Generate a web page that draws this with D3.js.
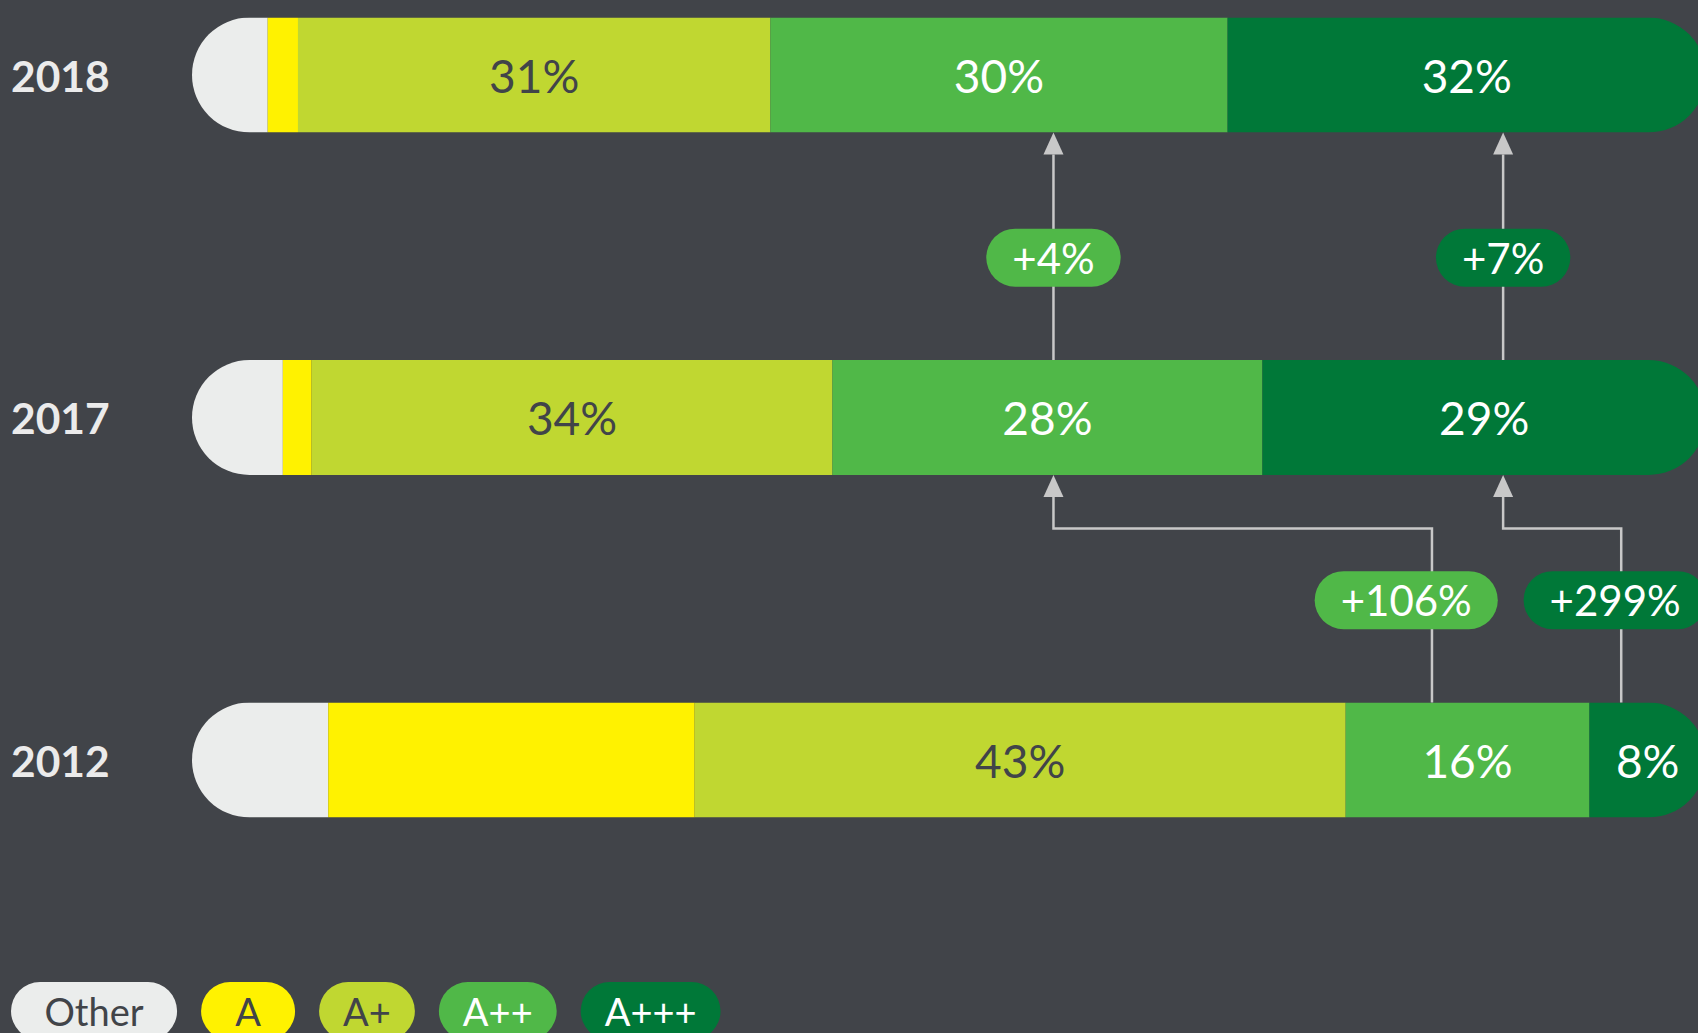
<!DOCTYPE html>
<html>
<head>
<meta charset="utf-8">
<script src="https://cdn.jsdelivr.net/npm/d3@7"></script>
<style>
  html, body { margin: 0; padding: 0; background: #414449; overflow: hidden; }
  svg { display: block; font-family: Lato, "Open Sans", sans-serif; }
</style>
</head>
<body>
<script>
// Energy label shares per year (percent of sales).
const years = [2018, 2017, 2012];
const categories = ['Other', 'A', 'A+', 'A++', 'A+++'];
const share2018 = [5, 2, 31.2, 30.2, 31.6];
const share2017 = [6, 1.9, 34.4, 28.4, 29.3];
const share2012 = [9, 24.2, 43, 16.1, 7.7];
const labelledCats = ['A+', 'A++', 'A+++'];

// Growth annotations between years (positions in percent of bar length).
const changeFrom = [2017, 2017, 2012, 2012];
const changeTo = [2018, 2018, 2017, 2017];
const changeCat = ['A++', 'A+++', 'A++', 'A+++'];
const changeText = ['+4%', '+7%', '+106%', '+299%'];
const changeFromAt = [56.9, 86.6, 81.9, 94.4];
const changeToAt = [56.9, 86.6, 56.9, 86.6];
const changeLabelAt = [56.9, 86.6, 80.2, 94.0];

const colors = {'Other': '#ebedec', 'A': '#fff200', 'A+': '#c0d731', 'A++': '#50b848', 'A+++': '#007838'};
const textColors = {'Other': '#414449', 'A': '#414449', 'A+': '#414449', 'A++': '#ffffff', 'A+++': '#ffffff'};

const size = {width: 1698, height: 1033};
const barH = 115;
const pillH = 58;

const rows = years.map((yr, i) => {
  const vals = [share2018, share2017, share2012][i];
  const row = {year: yr};
  categories.forEach((c, j) => { row[c] = vals[j]; });
  return row;
});

const x = d3.scaleLinear().domain([0, 100]).range([192, 1706]);
const y = d3.scalePoint().domain(years).range([75, 760]);

const svg = d3.select('body').append('svg')
  .attr('width', size.width)
  .attr('height', size.height);

// Clip each bar to a pill shape.
const defs = svg.append('defs');
years.forEach((yr) => {
  defs.append('clipPath').attr('id', 'clip-' + yr)
    .append('rect')
    .attr('x', x(0)).attr('y', y(yr) - barH / 2)
    .attr('width', x(100) - x(0)).attr('height', barH)
    .attr('rx', barH / 2).attr('ry', barH / 2);
});

const series = d3.stack().keys(categories)(rows);

// Year labels.
svg.selectAll('text.year')
  .data(years)
  .enter()
  .append('text')
  .attr('class', 'year')
  .attr('x', 11)
  .attr('y', (d) => y(d))
  .attr('dominant-baseline', 'central')
  .style('font-size', '42.5px')
  .style('font-weight', 700)
  .style('fill', '#ebebeb')
  .text((d) => d);

// Bars.
const barGroups = svg.selectAll('g.bar')
  .data(years)
  .enter()
  .append('g')
  .attr('class', 'bar')
  .attr('clip-path', (d) => 'url(#clip-' + d + ')');

series.forEach((s) => {
  s.forEach((seg) => {
    const yr = seg.data.year;
    barGroups.filter((d) => d === yr)
      .append('rect')
      .attr('x', x(seg[0]))
      .attr('y', y(yr) - barH / 2)
      .attr('width', x(seg[1]) - x(seg[0]))
      .attr('height', barH)
      .style('fill', colors[s.key]);
  });
});

// Segment value labels.
series.filter((s) => labelledCats.includes(s.key)).forEach((s) => {
  svg.selectAll(null)
    .data(s)
    .enter()
    .append('text')
    .attr('x', (d) => (x(d[0]) + x(d[1])) / 2)
    .attr('y', (d) => y(d.data.year))
    .attr('text-anchor', 'middle')
    .attr('dominant-baseline', 'central')
    .style('font-size', '46px')
    .style('fill', textColors[s.key])
    .text((d) => Math.round(d[1] - d[0]) + '%');
});

// Growth arrows.
const arrowColor = '#c8c8c8';
const headH = 22;
const headW = 20;
changeText.forEach((txt, i) => {
  const fromTop = y(changeFrom[i]) - barH / 2;
  const toBottom = y(changeTo[i]) + barH / 2;
  const gap = fromTop - toBottom;
  const x0 = x(changeFromAt[i]);
  const x1 = x(changeToAt[i]);
  let path;
  if (Math.abs(x0 - x1) < 1) {
    path = 'M' + x0 + ',' + fromTop + 'V' + (toBottom + headH);
  } else {
    const elbow = toBottom + gap * 0.235;
    path = 'M' + x0 + ',' + fromTop + 'V' + elbow + 'H' + x1 + 'V' + (toBottom + headH);
  }
  svg.append('path')
    .attr('d', path)
    .style('fill', 'none')
    .style('stroke', arrowColor)
    .style('stroke-width', 2.5);
  svg.append('path')
    .attr('d', 'M' + x1 + ',' + toBottom + 'L' + (x1 + headW / 2) + ',' + (toBottom + headH) + 'L' + (x1 - headW / 2) + ',' + (toBottom + headH) + 'Z')
    .style('fill', arrowColor);

  const cy = toBottom + gap * 0.55;
  const cx = x(changeLabelAt[i]);
  const g = svg.append('g');
  const pill = g.append('rect');
  const t = g.append('text')
    .attr('x', cx)
    .attr('y', cy)
    .attr('text-anchor', 'middle')
    .attr('dominant-baseline', 'central')
    .style('font-size', '42px')
    .style('fill', '#ffffff')
    .text(txt);
  const w = t.node().getComputedTextLength() + 52;
  pill.attr('x', cx - w / 2).attr('y', cy - pillH / 2)
    .attr('width', w).attr('height', pillH)
    .attr('rx', pillH / 2).attr('ry', pillH / 2)
    .style('fill', colors[changeCat[i]]);
});

// Legend.
const legendPad = {'Other': 67};
let lx = 11;
const legendTop = 982;
categories.forEach((c) => {
  const g = svg.append('g');
  const pill = g.append('rect');
  const t = g.append('text')
    .attr('y', legendTop + pillH / 2)
    .attr('text-anchor', 'middle')
    .attr('dominant-baseline', 'central')
    .style('font-size', '38px')
    .style('fill', textColors[c])
    .text(c);
  const w = Math.max(94, t.node().getComputedTextLength() + (legendPad[c] || 48));
  t.attr('x', lx + w / 2);
  pill.attr('x', lx).attr('y', legendTop)
    .attr('width', w).attr('height', pillH)
    .attr('rx', pillH / 2).attr('ry', pillH / 2)
    .style('fill', colors[c]);
  lx += w + 24;
});
</script>
</body>
</html>
